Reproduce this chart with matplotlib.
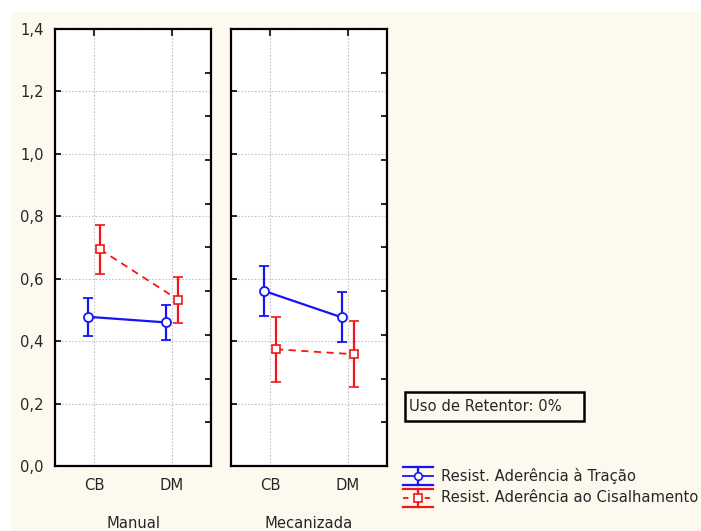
import matplotlib
matplotlib.use("Agg")
import matplotlib.pyplot as plt
import numpy as np
from matplotlib.lines import Line2D
from matplotlib.patches import Rectangle
from matplotlib.ticker import FixedLocator, FuncFormatter

plt.rcParams['font.family'] = ['DejaVu Sans']

groups = ["Manual", "Mecanizada"]
categories = ["CB", "DM"]
series_names = ["Resist. Aderência à Tração", "Resist. Aderência ao Cisalhamento"]

# means and confidence half-widths per group, per category
tracao_mean = {"Manual": [0.478, 0.460], "Mecanizada": [0.561, 0.476]}
tracao_err = {"Manual": [0.060, 0.056], "Mecanizada": [0.080, 0.080]}
cisalh_mean = {"Manual": [0.694, 0.533], "Mecanizada": [0.374, 0.358]}
cisalh_err = {"Manual": [0.078, 0.074], "Mecanizada": [0.104, 0.105]}

y_ticks = [0.0, 0.2, 0.4, 0.6, 0.8, 1.0, 1.2, 1.4]

BG = "#FDF9EF"
BLUE = "#1515F5"
RED = "#F51515"
TXT = "#262626"
FS = 10.6

W, H = 701, 531
fig = plt.figure(figsize=(W / 100, H / 100), dpi=100)
fig.patch.set_facecolor("white")
fig.patches.append(Rectangle((11 / W, 0), 1, (H - 12) / H, transform=fig.transFigure,
                             facecolor=BG, edgecolor="none", zorder=-10))

def fx(px):
    return px / W

def fy(py):
    return (H - py) / H

panels = [(55, 211), (231, 387)]
top_px, bot_px = 29, 466
offset = 0.077
x = np.arange(len(categories))

for gi, (g, (x0, x1)) in enumerate(zip(groups, panels)):
    ax = fig.add_axes([fx(x0), fy(bot_px), fx(x1 - x0), (bot_px - top_px) / H])
    ax.set_facecolor("white")
    ax.set_xlim(-0.5, 1.5)
    ax.set_ylim(0, 1.4)
    ax.grid(True, color="#C4C4C4", linestyle=(0, (1.5, 1.5)), linewidth=0.8)
    ax.set_axisbelow(True)
    for sp in ax.spines.values():
        sp.set_linewidth(1.6)
        sp.set_color("black")

    ax.errorbar(x - offset, tracao_mean[g], yerr=tracao_err[g], color=BLUE, lw=1.6,
                marker="o", ms=6.5, mfc="white", mec=BLUE, mew=1.3,
                capsize=3.5, capthick=1.6, elinewidth=1.6, zorder=3)
    ax.errorbar(x + offset, cisalh_mean[g], yerr=cisalh_err[g], color=RED, lw=1.3,
                ls=(0, (4, 3)), marker="s", ms=6, mfc="white", mec=RED, mew=1.2,
                capsize=3.5, capthick=1.6, elinewidth=1.6, zorder=3)

    ax.set_xticks(x)
    ax.set_xticklabels(categories, fontsize=FS, color=TXT)
    ax.tick_params(axis="x", length=0, pad=9, top=False, bottom=False)
    # short inward ticks at the top edge
    for xi in x:
        ax.plot([xi, xi], [1.4, 1.4 - 0.02], color="black", lw=1.2, clip_on=False, zorder=4)

    ax.yaxis.set_major_locator(FixedLocator(y_ticks))
    ax.yaxis.set_major_formatter(FuncFormatter(lambda v, p: f"{v:.1f}".replace(".", ",")))
    ax.tick_params(axis="y", direction="in", length=4, width=1.2, labelsize=FS,
                   labelcolor=TXT, pad=8)
    if gi == 1:
        ax.tick_params(axis="y", labelleft=False)

    sec = ax.secondary_yaxis("right")
    sec.set_yticks([0.14 * k for k in range(1, 10)])
    sec.tick_params(direction="in", length=4, width=1.2, labelright=False)
    sec.spines["right"].set_visible(False)

    fig.text(fx((x0 + x1) / 2), fy(523), g, ha="center", va="center",
             fontsize=FS, color=TXT)

# annotation box
fig.patches.append(Rectangle((fx(405), fy(421)), fx(584 - 405), (421 - 392) / H,
                             transform=fig.transFigure, facecolor=BG,
                             edgecolor="black", linewidth=1.8, zorder=5))
fig.text(fx(409), fy(406.5), "Uso de Retentor: 0%", ha="left", va="center",
         fontsize=FS, color=TXT, zorder=6)

# legend drawn as error-bar glyphs
def legend_glyph(yc, color, marker, ls):
    hx0, hx1, xm = fx(403), fx(433), fx(418)
    fig.add_artist(Line2D([hx0, hx1], [fy(yc - 9)] * 2, color=color, lw=1.6, transform=fig.transFigure))
    fig.add_artist(Line2D([hx0, hx1], [fy(yc + 9)] * 2, color=color, lw=1.6, transform=fig.transFigure))
    fig.add_artist(Line2D([xm, xm], [fy(yc - 9), fy(yc + 9)], color=color, lw=1.6, transform=fig.transFigure))
    fig.add_artist(Line2D([hx0, hx1], [fy(yc)] * 2, color=color, lw=1.3, ls=ls, transform=fig.transFigure))
    fig.add_artist(Line2D([xm], [fy(yc)], color=color, marker=marker, ms=5.5, mfc="white",
                          mec=color, mew=1.2, transform=fig.transFigure))

legend_glyph(476, BLUE, "o", "-")
legend_glyph(498, RED, "s", (0, (3, 3)))
fig.text(fx(441), fy(476), series_names[0], ha="left", va="center", fontsize=FS, color=TXT)
fig.text(fx(441), fy(498), series_names[1], ha="left", va="center", fontsize=FS, color=TXT)

fig.savefig("out.png", dpi=100, facecolor=fig.get_facecolor())
